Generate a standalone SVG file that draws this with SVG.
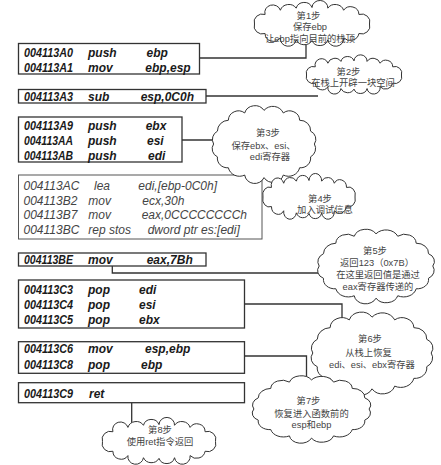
<svg xmlns="http://www.w3.org/2000/svg" xmlns:xlink="http://www.w3.org/1999/xlink" width="441" height="465" viewBox="0 0 441 465">
<style>
.box{fill:#fff;stroke:#333;stroke-width:1.3}
.box4{fill:#fff;stroke:#555;stroke-width:1}
.b{font-family:"Liberation Sans",Arial,sans-serif;font-size:12px;font-weight:bold;font-style:italic;fill:#1a1a1a}
.r{font-family:"Liberation Sans",Arial,sans-serif;font-size:12px;font-style:italic;fill:#444}
.c{font-family:"Liberation Sans","Noto Sans CJK SC",sans-serif;font-size:9.3px;fill:#444;text-anchor:middle}
.cl{fill:#fff;stroke:#333;stroke-width:1}
.conn{fill:none;stroke:#333;stroke-width:1.3}
</style>
<defs>
<path id="cloudW" class="cl" vector-effect="non-scaling-stroke" d="M52,0 A7.5,7.5 0 0 1 42.4,9.27 A8,8 0 0 1 28.6,13.36 A7,7 0 0 1 14.3,15.38 A7.5,7.5 0 0 1 0,16 A8,8 0 0 1 -14.3,15.38 A7,7 0 0 1 -28.6,13.36 A7.5,7.5 0 0 1 -42.4,9.27 A7.5,7.5 0 0 1 -52,0 A7.5,7.5 0 0 1 -42.4,-9.27 A7,7 0 0 1 -28.6,-13.36 A8,8 0 0 1 -14.3,-15.38 A7.5,7.5 0 0 1 0,-16 A7,7 0 0 1 14.3,-15.38 A8,8 0 0 1 28.6,-13.36 A7.5,7.5 0 0 1 42.4,-9.27 A7.5,7.5 0 0 1 52,0 Z"/>
<path id="cloudR" class="cl" vector-effect="non-scaling-stroke" d="M40,0 A8,8 0 0 1 36.96,10.72 A8,8 0 0 1 28.28,19.8 A9,9 0 0 1 15.32,25.87 A8.5,8.5 0 0 1 0,28 A8,8 0 0 1 -15.32,25.87 A9,9 0 0 1 -28.28,19.8 A8,8 0 0 1 -36.96,10.72 A7.5,7.5 0 0 1 -40,0 A8,8 0 0 1 -36.96,-10.72 A9,9 0 0 1 -28.28,-19.8 A8,8 0 0 1 -15.32,-25.87 A8.5,8.5 0 0 1 0,-28 A9,9 0 0 1 15.32,-25.87 A8,8 0 0 1 28.28,-19.8 A8.5,8.5 0 0 1 36.96,-10.72 A7.5,7.5 0 0 1 40,0 Z"/>
</defs>
<rect width="441" height="465" fill="#fff"/>
<g id="connectors" class="conn">
<polyline points="199.5,58 306,58 306,40"/>
<polyline points="206,96 318,96"/>
<polyline points="182,140 220,140"/>
<polyline points="112.3,266 112.3,273 320,273"/>
<polyline points="244.5,304 342,304 342,318"/>
<polyline points="244.5,356 306.5,356 306.5,382"/>
<polyline points="131.7,403 131.7,424"/>
</g>
<g id="box1">
<rect class="box" x="18.5" y="43.5" width="181" height="30.5"/>
<text class="b" x="24" y="56.5" textLength="49" lengthAdjust="spacingAndGlyphs">004113A0</text><text class="b" x="88" y="56.5">push</text><text class="b" x="146.5" y="56.5">ebp</text>
<text class="b" x="24" y="71.5" textLength="49" lengthAdjust="spacingAndGlyphs">004113A1</text><text class="b" x="88" y="71.5">mov</text><text class="b" x="145.3" y="71.5">ebp,esp</text>
</g>
<g id="box2">
<rect class="box" x="18.5" y="89.5" width="187.5" height="13.5"/>
<text class="b" x="24" y="100.5" textLength="49" lengthAdjust="spacingAndGlyphs">004113A3</text><text class="b" x="88" y="100.5">sub</text><text class="b" x="140.7" y="100.5">esp,0C0h</text>
</g>
<g id="box3">
<rect class="box" x="18.5" y="117" width="163.5" height="45"/>
<text class="b" x="24" y="130" textLength="49" lengthAdjust="spacingAndGlyphs">004113A9</text><text class="b" x="88" y="130">push</text><text class="b" x="145.7" y="130">ebx</text>
<text class="b" x="24" y="145" textLength="49" lengthAdjust="spacingAndGlyphs">004113AA</text><text class="b" x="88" y="145">push</text><text class="b" x="147" y="145">esi</text>
<text class="b" x="24" y="159.5" textLength="49" lengthAdjust="spacingAndGlyphs">004113AB</text><text class="b" x="88" y="159.5">push</text><text class="b" x="148" y="159.5">edi</text>
</g>
<g id="box4">
<rect class="box4" x="18.5" y="175" width="243.5" height="64"/>
<text class="r" x="23.5" y="190">004113AC</text><text class="r" x="94" y="190">lea</text><text class="r" x="138.3" y="190">edi,[ebp-0C0h]</text>
<text class="r" x="23.5" y="204.5">004113B2</text><text class="r" x="88.3" y="204.5">mov</text><text class="r" x="142.3" y="204.5">ecx,30h</text>
<text class="r" x="23.5" y="219">004113B7</text><text class="r" x="88.3" y="219">mov</text><text class="r" x="141.7" y="219">eax,0CCCCCCCCh</text>
<text class="r" x="23.5" y="233.5">004113BC</text><text class="r" x="88.3" y="233.5">rep stos</text><text class="r" x="147.7" y="233.5">dword ptr es:[edi]</text>
</g>
<g id="box5">
<rect class="box" x="18.5" y="253" width="187.5" height="13"/>
<text class="b" x="24" y="263.5" textLength="49" lengthAdjust="spacingAndGlyphs">004113BE</text><text class="b" x="88" y="263.5">mov</text><text class="b" x="146.7" y="263.5">eax,7Bh</text>
</g>
<g id="box6">
<rect class="box" x="18.5" y="280" width="226" height="48"/>
<text class="b" x="24" y="294" textLength="49" lengthAdjust="spacingAndGlyphs">004113C3</text><text class="b" x="88" y="294">pop</text><text class="b" x="139" y="294">edi</text>
<text class="b" x="24" y="309" textLength="49" lengthAdjust="spacingAndGlyphs">004113C4</text><text class="b" x="88" y="309">pop</text><text class="b" x="139" y="309">esi</text>
<text class="b" x="24" y="324" textLength="49" lengthAdjust="spacingAndGlyphs">004113C5</text><text class="b" x="88" y="324">pop</text><text class="b" x="139" y="324">ebx</text>
</g>
<g id="box7">
<rect class="box" x="18.5" y="341.7" width="226" height="31.6"/>
<text class="b" x="24" y="353" textLength="49" lengthAdjust="spacingAndGlyphs">004113C6</text><text class="b" x="88" y="353">mov</text><text class="b" x="145" y="353">esp,ebp</text>
<text class="b" x="24" y="368.5" textLength="49" lengthAdjust="spacingAndGlyphs">004113C8</text><text class="b" x="88" y="368.5">pop</text><text class="b" x="141" y="368.5">ebp</text>
</g>
<g id="box8">
<rect class="box" x="18.5" y="382.7" width="226" height="20"/>
<text class="b" x="24" y="398" textLength="49" lengthAdjust="spacingAndGlyphs">004113C9</text><text class="b" x="89" y="398">ret</text>
</g>
<g id="step1">
<use xlink:href="#cloudW" href="#cloudW" transform="translate(312,24) scale(1.106,1.03)"/>
<text class="c" x="308.5" y="18.5">第1步</text>
<text class="c" x="310" y="30">保存ebp</text>
<text class="c" x="310" y="42">让ebp指向目前的栈顶</text>
</g>
<g id="step2">
<use xlink:href="#cloudW" href="#cloudW" transform="translate(354,75) scale(0.913,0.882)"/>
<text class="c" x="348.5" y="74.5">第2步</text>
<text class="c" x="353" y="86">在栈上开辟一块空间</text>
</g>
<g id="step3">
<use xlink:href="#cloudR" href="#cloudR" transform="translate(264,144) scale(1.26,1.2)"/>
<text class="c" x="268" y="135.5">第3步</text>
<text class="c" x="263.5" y="148.5">保存ebx、esi、</text>
<text class="c" x="270" y="160">edi寄存器</text>
</g>
<g id="step4">
<use xlink:href="#cloudW" href="#cloudW" transform="translate(309,197) scale(0.885,1.03)"/>
<text class="c" x="320" y="201.5">第4步</text>
<text class="c" x="325" y="213">加入调试信息</text>
</g>
<g id="step5">
<use xlink:href="#cloudR" href="#cloudR" transform="translate(376,266) scale(1.42,1.15)"/>
<text class="c" x="375" y="253.5">第5步</text>
<text class="c" x="377" y="265.5">返回123（0x7B）</text>
<text class="c" x="378" y="278">在这里返回值是通过</text>
<text class="c" x="378" y="290">eax寄存器传递的</text>
</g>
<g id="step6">
<use xlink:href="#cloudR" href="#cloudR" transform="translate(372,353) scale(1.48,1.28)"/>
<text class="c" x="370" y="342">第6步</text>
<text class="c" x="368.5" y="355.5">从栈上恢复</text>
<text class="c" x="372" y="367.5">edi、esi、ebx寄存器</text>
</g>
<g id="step7">
<use xlink:href="#cloudR" href="#cloudR" transform="translate(311.5,409) scale(1.44,1.04)"/>
<text class="c" x="308.5" y="403.5">第7步</text>
<text class="c" x="311.5" y="416.5">恢复进入函数前的</text>
<text class="c" x="311.5" y="427.5">esp和ebp</text>
</g>
<g id="step8">
<use xlink:href="#cloudW" href="#cloudW" transform="translate(159,441.5) scale(1.087,1.054)"/>
<text class="c" x="160" y="432.5">第8步</text>
<text class="c" x="160" y="445">使用ret指令返回</text>
</g>
</svg>
